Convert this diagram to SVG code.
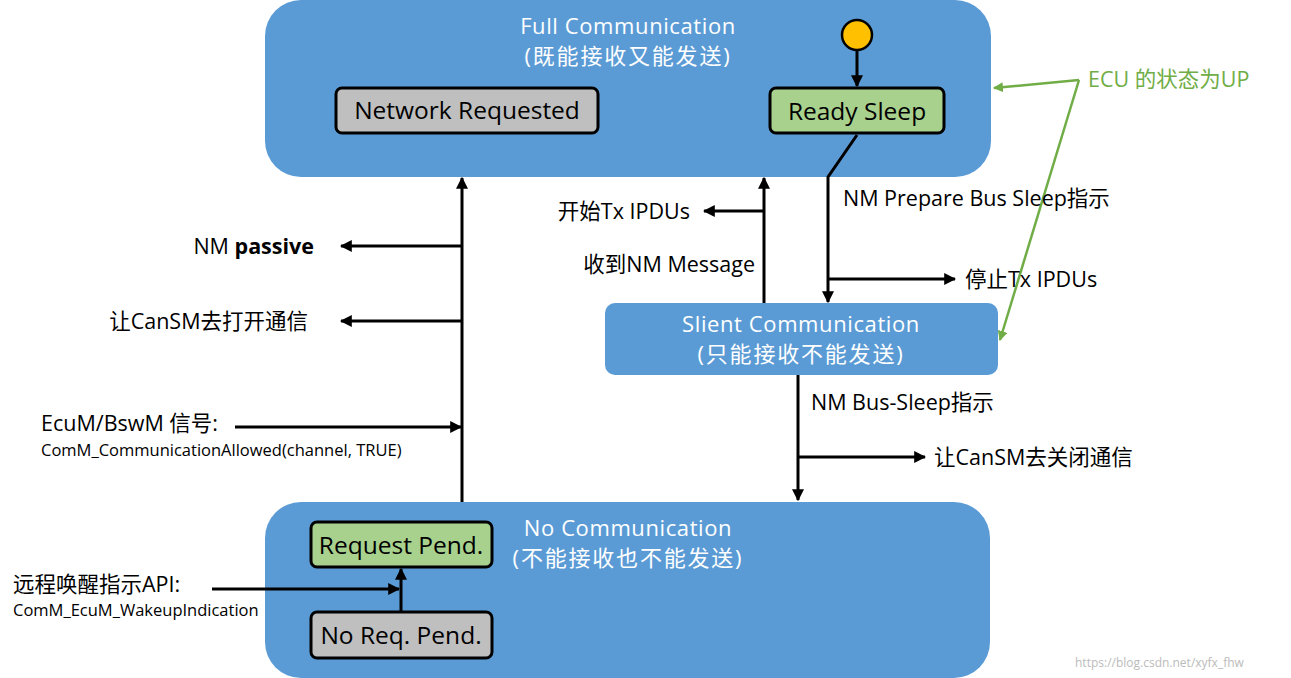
<svg xmlns="http://www.w3.org/2000/svg" width="1291" height="678" viewBox="0 0 1291 678">
<style>
.big{fill:#5B9BD5}
.st{stroke:#000;stroke-width:3}
.gray{fill:#BFBFBF}
.green{fill:#A9D18E}
.t{font-family:"Open Sans","Noto Sans CJK SC",sans-serif;fill:#000}
.w{font-family:"Open Sans","Noto Sans CJK SC",sans-serif;fill:#fff;font-size:22px;letter-spacing:0.6px}
.wc{letter-spacing:1.8px}
.n{font-size:24.5px}
.l{font-size:21.5px}
.s{font-size:16.5px}
.c{stroke:#000;stroke-width:3;fill:none}
.g{stroke:#70AD47;stroke-width:2.5;fill:none}
</style>
<defs>
<marker id="a" viewBox="0 0 10 10" refX="9" refY="5" markerWidth="4" markerHeight="4" markerUnits="strokeWidth" orient="auto"><path d="M0,0 L10,5 L0,10 Z" fill="#000"/></marker>
<marker id="ag" viewBox="0 0 10 10" refX="9" refY="5" markerWidth="4" markerHeight="4" markerUnits="strokeWidth" orient="auto"><path d="M0,0 L10,5 L0,10 Z" fill="#70AD47"/></marker>
</defs>
<rect width="1291" height="678" fill="#fff"/>
<g id="full">
<rect class="big" x="265" y="0" width="726" height="177" rx="36"/>
<text class="w" x="628" y="34" text-anchor="middle">Full Communication</text>
<text class="w wc" x="628" y="64" text-anchor="middle">(既能接收又能发送)</text>
</g>
<g id="netreq">
<rect class="gray st" x="336" y="88" width="262" height="45" rx="6"/>
<text class="t n" x="467" y="119" text-anchor="middle">Network Requested</text>
</g>
<g id="readysleep">
<rect class="green st" x="770" y="88" width="174" height="45" rx="6"/>
<text class="t n" x="857" y="120" text-anchor="middle">Ready Sleep</text>
</g>
<g id="init">
<circle cx="857" cy="35" r="15" fill="#FFC000" stroke="#000" stroke-width="2.5"/>
</g>
<g id="silent">
<rect class="big" x="605" y="303" width="393" height="72" rx="10"/>
<text class="w" x="801" y="332" text-anchor="middle">Slient Communication</text>
<text class="w wc" x="801" y="362" text-anchor="middle">(只能接收不能发送)</text>
</g>
<g id="nocomm">
<rect class="big" x="265" y="502" width="725" height="176" rx="36"/>
<text class="w" x="628" y="536" text-anchor="middle">No Communication</text>
<text class="w wc" x="628" y="566" text-anchor="middle">(不能接收也不能发送)</text>
</g>
<g id="reqpend">
<rect class="green st" x="311" y="522" width="181" height="45" rx="6"/>
<text class="t n" x="401" y="554" text-anchor="middle">Request Pend.</text>
</g>
<g id="noreqpend">
<rect class="gray st" x="311" y="612" width="181" height="46" rx="6"/>
<text class="t n" x="401" y="644" text-anchor="middle">No Req. Pend.</text>
</g>
<g id="connectors">
<path class="c" d="M857,51 V86" marker-end="url(#a)"/>
<path class="c" d="M857,135 L828,177 V302" marker-end="url(#a)"/>
<path class="c" d="M828,279 H955" marker-end="url(#a)"/>
<path class="c" d="M764,303 V178" marker-end="url(#a)"/>
<path class="c" d="M764,211 H704" marker-end="url(#a)"/>
<path class="c" d="M798,375 V500" marker-end="url(#a)"/>
<path class="c" d="M798,457 H925" marker-end="url(#a)"/>
<path class="c" d="M462,502 V178" marker-end="url(#a)"/>
<path class="c" d="M462,246 H341" marker-end="url(#a)"/>
<path class="c" d="M462,321 H341" marker-end="url(#a)"/>
<path class="c" d="M235,427 H461" marker-end="url(#a)"/>
<path class="c" d="M401,612 V569" marker-end="url(#a)"/>
<path class="c" d="M212,589 H399" marker-end="url(#a)"/>
<path class="g" d="M1079,80 L994,88" marker-end="url(#ag)"/>
<path class="g" d="M1079,80 L1000,340" marker-end="url(#ag)"/>
</g>
<g id="labels">
<text class="t l" x="843" y="206">NM Prepare Bus Sleep指示</text>
<text class="t l" x="965" y="287">停止Tx IPDUs</text>
<text class="t l" x="690" y="219" text-anchor="end">开始Tx IPDUs</text>
<text class="t l" x="755" y="272" text-anchor="end">收到NM Message</text>
<text class="t l" x="811" y="410">NM Bus-Sleep指示</text>
<text class="t l" x="934" y="465">让CanSM去关闭通信</text>
<text class="t l" x="314" y="254" text-anchor="end">NM <tspan font-weight="bold">passive</tspan></text>
<text class="t l" x="308" y="329" text-anchor="end">让CanSM去打开通信</text>
<text class="t l" x="41" y="431">EcuM/BswM 信号:</text>
<text class="t s" x="41" y="456">ComM_CommunicationAllowed(channel, TRUE)</text>
<text class="t l" x="13" y="592">远程唤醒指示API:</text>
<text class="t s" x="13" y="616">ComM_EcuM_WakeupIndication</text>
<text x="1088" y="87" font-family="Open Sans,Noto Sans CJK SC,sans-serif" font-size="21.5" fill="#70AD47">ECU 的状态为UP</text>
<text x="1075" y="667" font-family="Open Sans,Noto Sans CJK SC,sans-serif" font-size="12" fill="#BBBBBB">https://blog.csdn.net/xyfx_fhw</text>
</g>
</svg>
